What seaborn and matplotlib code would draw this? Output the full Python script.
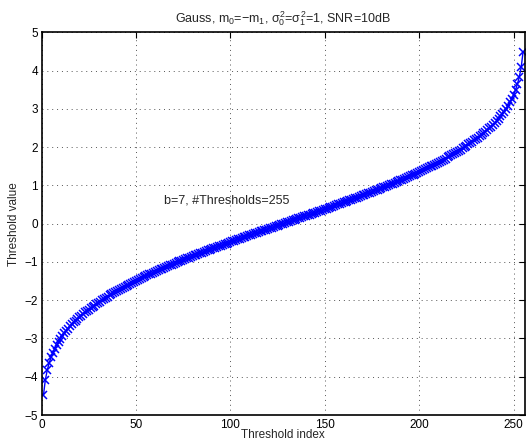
import numpy as np
import pandas as pd
import matplotlib
matplotlib.use("Agg")
import matplotlib.pyplot as plt
import seaborn as sns

# threshold index 1..255 (x axis)
threshold_index = np.arange(1, 256)

# thresholds below the middle, index 1..127
lower_thresholds = [
    -4.485, -4.082, -3.831, -3.645, -3.495, -3.371, -3.262, -3.167, -3.080, -3.002,
    -2.929, -2.863, -2.800, -2.741, -2.686, -2.632, -2.582, -2.534, -2.488, -2.444,
    -2.401, -2.360, -2.321, -2.282, -2.245, -2.209, -2.174, -2.140, -2.104, -2.069,
    -2.035, -2.001, -1.969, -1.937, -1.905, -1.875, -1.844, -1.815, -1.786, -1.757,
    -1.729, -1.701, -1.674, -1.647, -1.621, -1.595, -1.569, -1.544, -1.518, -1.494,
    -1.469, -1.445, -1.421, -1.398, -1.374, -1.351, -1.328, -1.306, -1.283, -1.261,
    -1.239, -1.217, -1.195, -1.174, -1.152, -1.131, -1.110, -1.089, -1.069, -1.048,
    -1.028, -1.007, -0.987, -0.967, -0.948, -0.928, -0.908, -0.889, -0.869, -0.850,
    -0.831, -0.812, -0.793, -0.774, -0.756, -0.737, -0.718, -0.700, -0.681, -0.663,
    -0.645, -0.627, -0.608, -0.590, -0.572, -0.554, -0.536, -0.519, -0.501, -0.483,
    -0.466, -0.448, -0.430, -0.413, -0.395, -0.378, -0.360, -0.343, -0.326, -0.308,
    -0.291, -0.274, -0.256, -0.239, -0.222, -0.205, -0.188, -0.171, -0.154, -0.136,
    -0.119, -0.102, -0.085, -0.068, -0.051, -0.034, -0.017,
]

# middle threshold, index 128
middle_threshold = [0.0]

# thresholds above the middle, index 129..255
upper_thresholds = [
    0.017, 0.034, 0.051, 0.068, 0.085, 0.102, 0.119, 0.136, 0.154, 0.171,
    0.188, 0.205, 0.222, 0.239, 0.256, 0.274, 0.291, 0.308, 0.326, 0.343,
    0.360, 0.378, 0.395, 0.413, 0.430, 0.448, 0.466, 0.483, 0.501, 0.519,
    0.536, 0.554, 0.572, 0.590, 0.608, 0.627, 0.645, 0.663, 0.681, 0.700,
    0.718, 0.737, 0.756, 0.774, 0.793, 0.812, 0.831, 0.850, 0.869, 0.889,
    0.908, 0.928, 0.948, 0.967, 0.987, 1.007, 1.028, 1.048, 1.069, 1.089,
    1.110, 1.131, 1.152, 1.174, 1.195, 1.217, 1.239, 1.261, 1.283, 1.306,
    1.328, 1.351, 1.374, 1.398, 1.421, 1.445, 1.469, 1.494, 1.518, 1.544,
    1.569, 1.595, 1.621, 1.647, 1.674, 1.701, 1.729, 1.757, 1.786, 1.815,
    1.844, 1.875, 1.905, 1.937, 1.969, 2.001, 2.035, 2.069, 2.104, 2.140,
    2.174, 2.209, 2.245, 2.282, 2.321, 2.360, 2.401, 2.444, 2.488, 2.534,
    2.582, 2.632, 2.686, 2.741, 2.800, 2.863, 2.929, 3.002, 3.080, 3.167,
    3.262, 3.371, 3.495, 3.645, 3.831, 4.082, 4.485,
]

x_ticks = [0, 50, 100, 150, 200, 250]
y_ticks = [-5, -4, -3, -2, -1, 0, 1, 2, 3, 4, 5]

threshold_value = lower_thresholds + middle_threshold + upper_thresholds
assert len(threshold_value) == len(threshold_index), len(threshold_value)

df = pd.DataFrame({"index": threshold_index, "value": threshold_value})

sns.set_style("white")
plt.rcParams['font.family'] = ['Liberation Sans', 'DejaVu Sans']
plt.rcParams['mathtext.fontset'] = 'custom'
plt.rcParams['mathtext.rm'] = 'Liberation Sans'
plt.rcParams['mathtext.it'] = 'Liberation Sans'

fig = plt.figure(figsize=(5.26, 4.42), dpi=100)
ax = fig.add_axes([0.079, 0.061, 0.919, 0.866])

sns.lineplot(data=df, x="index", y="value", ax=ax, color="#0000ff",
             marker="x", markersize=5.5, markeredgewidth=1.1, linewidth=1.0,
             markeredgecolor="#0000ff", markevery=1)

ax.set_xlim(0, 256)
ax.set_ylim(-5, 5)
ax.set_xticks(x_ticks)
ax.set_yticks(y_ticks)
ax.grid(True, linestyle=(0, (1, 4)), color="#555555", linewidth=0.7)
ax.tick_params(direction="in", top=True, right=True, length=4, width=0.8,
               labelsize=8.5, colors="black", pad=2.5)
for s in ax.spines.values():
    s.set_color("black")
    s.set_linewidth(1.2)

ax.set_xlabel("Threshold index", fontsize=8.5, labelpad=-1)
ax.set_ylabel("Threshold value", fontsize=8.5, labelpad=3)
ax.set_title(r"Gauss, m$_0$=$-$m$_1$, $\sigma_0^2$=$\sigma_1^2$=1, SNR=10dB",
             fontsize=9, pad=7)
ax.text(65, 0.6, "b=7, #Thresholds=255", fontsize=9, va="center", ha="left")

fig.savefig("out.png", dpi=100)
